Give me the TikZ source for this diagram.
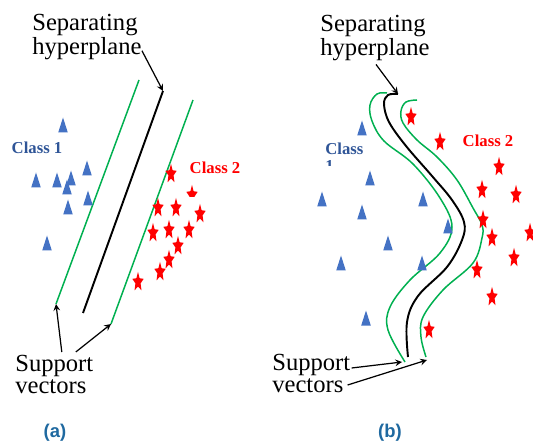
\documentclass[tikz,border=0pt]{standalone}
\usepackage{fontspec}
\setmainfont{Liberation Serif}
\newfontfamily\timesfont{Liberation Serif}
\newfontfamily\panelfont{Liberation Sans}
\usepackage{tikz}
\usetikzlibrary{shapes.geometric, backgrounds, calc}
\usetikzlibrary{arrows}
\definecolor{triblue}{RGB}{68,114,196}
\definecolor{classblue}{RGB}{47,85,151}
\definecolor{svgreen}{RGB}{0,176,80}
\definecolor{panelblue}{RGB}{31,105,160}

\begin{document}
\begin{tikzpicture}[x=0.02cm, y=-0.02cm,
    hyper text/.style={font=\timesfont\fontsize{14}{12.5}\selectfont, align=left, inner sep=0pt},
    class text/.style={font=\timesfont\bfseries\fontsize{9.5}{9.5}\selectfont, inner sep=0pt},
    panel text/.style={font=\panelfont\bfseries\fontsize{10.5}{12}\selectfont, text=panelblue, inner sep=0pt},
    sep line/.style={black, line width=1.1pt},
    margin line/.style={svgreen, line width=0.85pt},
    pointer/.style={-stealth, black, line width=0.7pt},
    tri/.pic={\fill[triblue] (-4.8,7.5) -- (4.8,7.5) -- (0,-7.5) -- cycle;},
    redstar/.pic={\fill[red, xscale=0.58, yscale=-1] (90:10.2) -- (126:4.7) -- (162:10.2) -- (198:4.7)
        -- (234:10.2) -- (270:4.7) -- (306:10.2) -- (342:4.7) -- (18:10.2) -- (54:4.7) -- cycle;}]
  \useasboundingbox (0,0) rectangle (533,445);

  % (a) linear
  \coordinate (hypA top) at (163,91);
  \coordinate (hypA bot) at (83,313);
  \coordinate (svA1 top) at (139,80);
  \coordinate (svA1 bot) at (56,304);
  \coordinate (svA2 top) at (193,100);
  \coordinate (svA2 bot) at (111,324);
  \draw[margin line] (svA1 top) -- (svA1 bot);
  \draw[sep line] (hypA top) -- (hypA bot);
  \draw[margin line] (svA2 top) -- (svA2 bot);

  % Class 1 points
  \foreach \x/\y in {63/125, 36/180, 57/180, 71/178, 67/187, 87/168, 88/198, 68/207, 47/243}
    \pic at (\x,\y) {tri};

  % Class 2 points
  \foreach \x/\y in {171/174, 158/208, 176/208, 200/214, 153/233, 169/230, 189/230,
                     178/246, 169/260, 160/272, 138/282}
    \pic at (\x,\y) {redstar};
  \begin{scope}
    \clip (180,180) rectangle (205,197);
    \pic at (192,195) {redstar};
  \end{scope}

  \node[class text, text=classblue] (c1A) at (37,148) {Class 1};
  \node[class text, text=red] (c2A) at (215,168) {Class 2};

  \node[hyper text, anchor=north west] (sepA) at (32,14) {Separating\\hyperplane};
  \draw[pointer] ([yshift=5.5pt]sepA.south east) -- (hypA top);

  \node[hyper text, anchor=north west] (svA) at (15,355) {Support\\vectors};
  \draw[pointer] ($(svA.north)+(7.5,-3)$) -- (svA1 bot);
  \draw[pointer] ($(svA.north)+(21.5,-3)$) -- (svA2 bot);

  \node[panel text] (pa) at (55,433) {(a)};

  % (b) non-linear
  \coordinate (hypB top) at (398,94);
  \coordinate (svB1 bot) at (405,362);
  \coordinate (svB2 bot) at (426,357);
  \draw[margin line] plot[smooth, tension=0.6] coordinates {(387,93) (377,94) (370,105) (372,121)
    (384,141) (413,164) (440,198) (452,227) (440,253) (410,280) (390,307) (388,330) (405,362)};
  \draw[sep line] plot[smooth, tension=0.6] coordinates {(398,94) (388,95) (384,104) (389,122)
    (406,146) (432,176) (452,200) (464,222) (462,240) (447,267) (418,296) (407,322) (408,357)};
  \draw[margin line] plot[smooth, tension=0.6] coordinates {(417,100) (406,102) (401,111) (403,123)
    (417,140) (437,157) (457,180) (473,208) (482,225) (482,238) (473,263) (443,290) (423,317)
    (421,337) (426,357)};

  % Class 1 points
  \foreach \x/\y in {362/128, 370/178, 322/199, 423/199, 362/212, 448/226, 388/243,
                     341/263, 422/263, 366/318}
    \pic at (\x,\y) {tri};

  % Class 2 points
  \foreach \x/\y in {411/117, 440/142, 499/167, 482/190, 516/195, 483/220, 492/238,
                     530/233, 514/258, 477/270, 492/297, 429/330}
    \pic at (\x,\y) {redstar};

  \begin{scope}
    \clip (300,135) rectangle (380,166);
    \node[class text, text=classblue, align=left, anchor=north west] (c1B) at (325,143) {Class\\1};
  \end{scope}
  \node[class text, text=red] (c2B) at (488,141) {Class 2};

  \node[hyper text, anchor=north west] (sepB) at (320,15) {Separating\\hyperplane};
  \draw[pointer] ($(sepB.south)+(1,3)$) -- (hypB top);

  \node[hyper text, anchor=north west] (svB) at (272,354) {Support\\vectors};
  \draw[pointer] ($(svB.north east)+(1,14)$) -- ($(svB1 bot)+(-3,0)$);
  \draw[pointer] ($(svB.north east)+(-3,31)$) -- ($(svB2 bot)+(1,3)$);

  \node[panel text] (pb) at (390,433) {(b)};

\end{tikzpicture}
\end{document}
